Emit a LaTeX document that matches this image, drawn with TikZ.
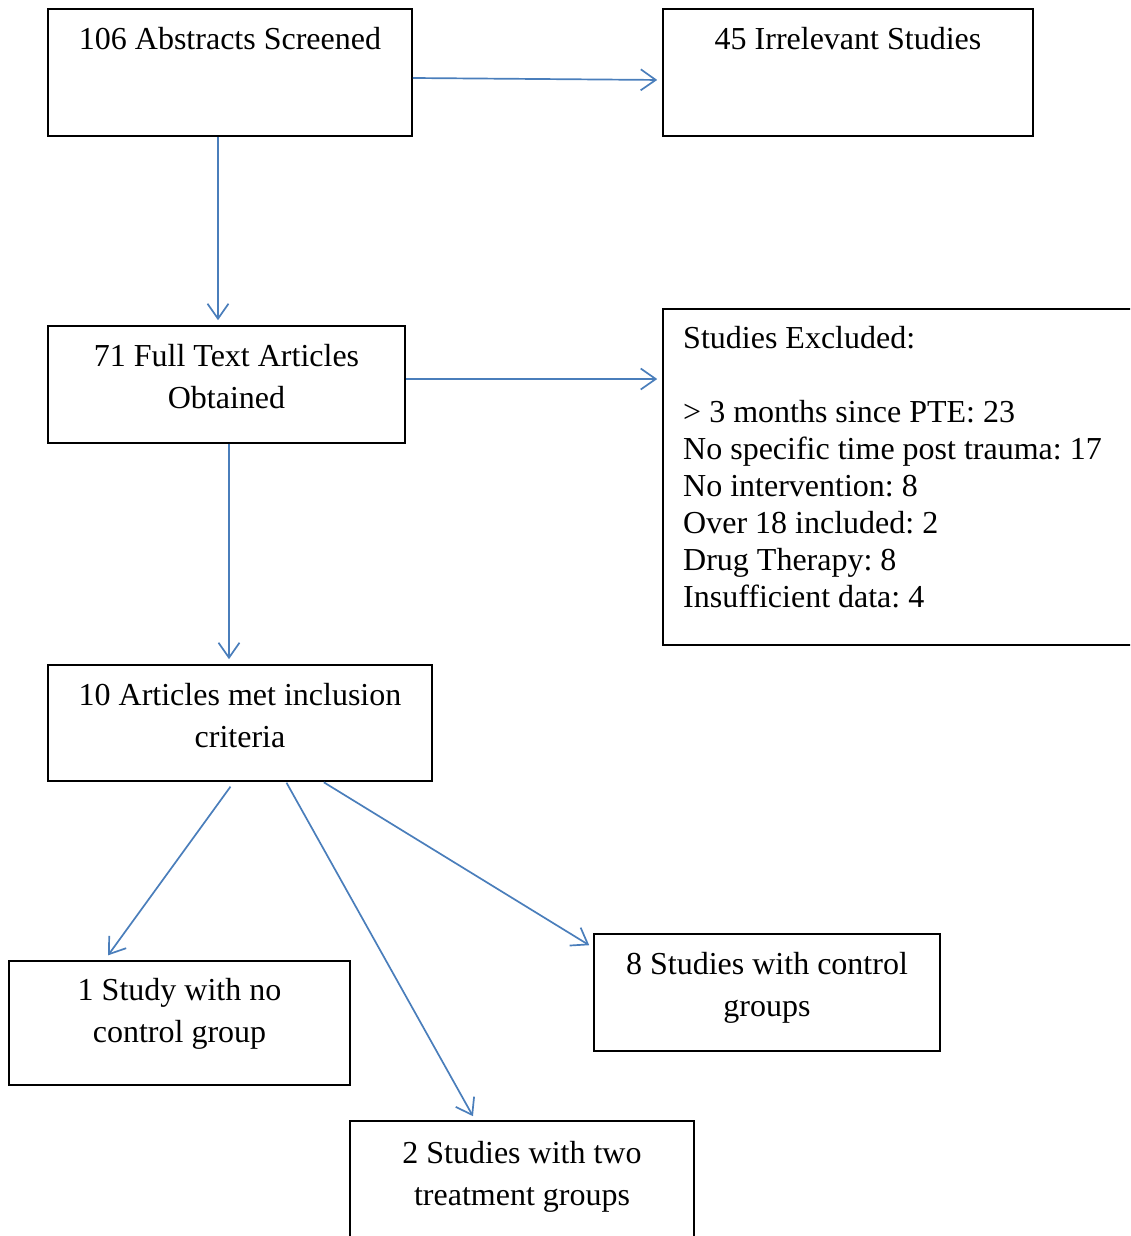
\documentclass[tikz,border=0pt]{standalone}
\usepackage{fontspec}
\setmainfont{Liberation Serif}
\usepackage{tikz}
\usetikzlibrary{arrows,arrows.meta}
\usetikzlibrary{positioning}

\definecolor{wordblue}{HTML}{4A7EBB}

\tikzset{
	box/.style={draw=black,line width=1.6pt,rectangle,inner sep=0pt},
	boxtext/.style={anchor=north,inner sep=0pt,align=center,font=\fontsize{32}{42}\selectfont\frenchspacing},
	listtext/.style={anchor=north west,inner sep=0pt,align=left,font=\fontsize{32}{37}\selectfont\frenchspacing},
	arr/.style={draw=wordblue,line width=1.7pt,-{Straight Barb[length=15pt,width=21pt,line width=1.7pt]}}
}

\begin{document}
\begin{tikzpicture}[x=1pt,y=-1pt]
	\useasboundingbox (0,0) rectangle (1130,1236);
	\clip (0,0) rectangle (1130,1236);

	% boxes
	\node[box,minimum width=364pt,minimum height=127pt] (abs)  at (230,72.5)  {};
	\node[box,minimum width=370pt,minimum height=127pt] (irr)  at (848,72.5)  {};
	\node[box,minimum width=357pt,minimum height=117pt] (full) at (226.5,384.5) {};
	\node[box,minimum width=490pt,minimum height=336pt] (excl) at (908,477)   {};
	\node[box,minimum width=384pt,minimum height=116pt] (incl) at (240,723)   {};
	\node[box,minimum width=341pt,minimum height=124pt] (nost) at (179.5,1023) {};
	\node[box,minimum width=344pt,minimum height=140pt] (two)  at (522,1191)  {};
	\node[box,minimum width=346pt,minimum height=117pt] (ctrl) at (767,992.5) {};

	% texts
	\node[boxtext] (abs-t)  at (230,27.5)  {106 Abstracts Screened};
	\node[boxtext] (irr-t)  at (848,27.5)  {45 Irrelevant Studies};
	\node[boxtext] (full-t) at (226.5,344) {71 Full Text Articles\\Obtained};
	\node[listtext] (excl-t) at (683,326) {Studies Excluded:\\[37pt]%
		\textgreater{} 3 months since PTE: 23\\
		No specific time post trauma: 17\\
		No intervention: 8\\
		Over 18 included: 2\\
		Drug Therapy: 8\\
		Insufficient data: 4};
	\node[boxtext] (incl-t) at (240,683) {10 Articles met inclusion\\criteria};
	\node[boxtext] (nost-t) at (179.5,978.5) {1 Study with no\\control group};
	\node[boxtext] (two-t)  at (522,1141) {2 Studies with two\\treatment groups};
	\node[boxtext] (ctrl-t) at (767,952.5) {8 Studies with control\\groups};

	% connectors
	\draw[arr,shorten >=5pt] ([yshift=-5.5pt]abs.east) -- ([yshift=-7.5pt]irr.west);
	\draw[arr,shorten >=5pt] ([xshift=-12pt]abs.south) -- ([xshift=-8.5pt]full.north);
	\draw[arr,shorten >=5pt] ([yshift=5.5pt]full.east) -- ([yshift=5.5pt]full.east -| excl.west);
	\draw[arr,shorten >=5pt] ([xshift=2.5pt]full.south) -- ([xshift=-11pt]incl.north);
	\draw[arr,shorten <=6pt,shorten >=6pt] ([xshift=-6pt]incl.south) -- ([xshift=-75pt]nost.north);
	\draw[arr,shorten <=1pt] ([xshift=83pt]incl.south) -- ([xshift=-4pt,yshift=-12pt]ctrl.north west);
	\draw[arr,shorten <=1pt,shorten >=4.6pt] ([xshift=46pt]incl.south) -- ([xshift=-46.8pt]two.north);
\end{tikzpicture}
\end{document}
